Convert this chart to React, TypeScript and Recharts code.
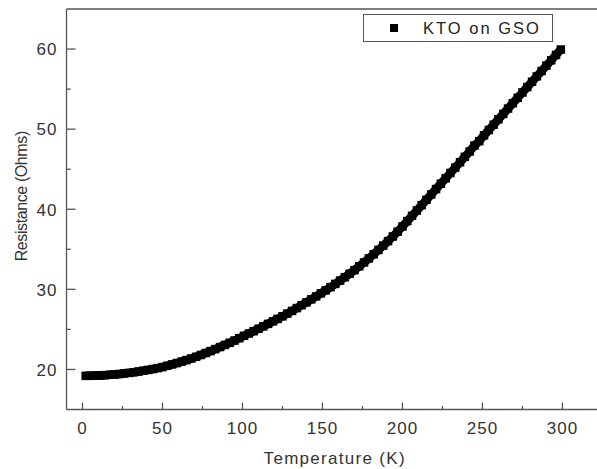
import React from "react";
import { ScatterChart, Scatter, XAxis, YAxis, ReferenceLine, Legend } from "recharts";

const temperatures = [
  2, 5, 8, 11, 14, 17, 20, 23, 26, 29, 32, 35, 38, 41, 44, 47, 50,
  53, 56, 59, 62, 65, 68, 71, 74, 77, 80, 83, 86, 89, 92, 95, 98, 101,
  104, 107, 110, 113, 116, 119, 122, 125, 128, 131, 134, 137, 140, 143, 146, 149,
  152, 155, 158, 161, 164, 167, 170, 173, 176, 179, 182, 185, 188, 191, 194, 197, 200,
  203, 206, 209, 212, 215, 218, 221, 224, 227, 230, 233, 236, 239, 242, 245, 248,
  251, 254, 257, 260, 263, 266, 269, 272, 275, 278, 281, 284, 287, 290, 293, 296, 299,
];

const resistances = [
  19.2, 19.21, 19.23, 19.25, 19.29, 19.33, 19.38, 19.43, 19.5, 19.57, 19.65, 19.74, 19.84, 19.94, 20.05, 20.17, 20.3,
  20.46, 20.63, 20.8, 20.98, 21.17, 21.37, 21.58, 21.81, 22.05, 22.29, 22.54, 22.8, 23.06, 23.33, 23.61, 23.9, 24.2,
  24.49, 24.78, 25.08, 25.38, 25.69, 26.0, 26.31, 26.63, 26.97, 27.31, 27.66, 28.02, 28.38, 28.75, 29.12, 29.5,
  29.87, 30.27, 30.68, 31.1, 31.52, 31.95, 32.4, 32.88, 33.36, 33.86, 34.38, 34.92, 35.46, 36.02, 36.6, 37.2, 37.85,
  38.52, 39.18, 39.84, 40.51, 41.18, 41.85, 42.52, 43.19, 43.86, 44.53, 45.2, 45.87, 46.54, 47.21, 47.95, 48.5,
  49.22, 49.89, 50.56, 51.23, 51.9, 52.57, 53.24, 53.91, 54.58, 55.25, 55.92, 56.59, 57.26, 57.93, 58.6, 59.27, 59.94,
];

const xTicks = [0, 25, 50, 75, 100, 125, 150, 175, 200, 225, 250, 275, 300];
const yTicks = [20, 25, 30, 35, 40, 45, 50, 55, 60];
const seriesName = "KTO on GSO";

const data = temperatures.map((t, i) => ({ t, r: resistances[i] }));

const FONT = "Arial, 'Liberation Sans', sans-serif";
const AXIS = "#555";
const TEXT = "#333";

const XTick = (props: any) => {
  const { x, y, payload } = props;
  const v = payload.value;
  const major = v % 50 === 0;
  return (
    <g>
      <line x1={x} x2={x} y1={y} y2={y - (major ? 7 : 3.5)} stroke={AXIS} strokeWidth={1.3} />
      {major && (
        <text x={x} y={y + 24} textAnchor="middle" fontSize={17} letterSpacing={1} fill={TEXT} fontFamily={FONT}>
          {v}
        </text>
      )}
    </g>
  );
};

const YTick = (props: any) => {
  const { x, y, payload } = props;
  const v = payload.value;
  const major = v % 10 === 0;
  return (
    <g>
      <line x1={x} x2={x + (major ? 9 : 4.3)} y1={y} y2={y} stroke={AXIS} strokeWidth={1.3} />
      {major && (
        <text x={x - 9} y={y + 6.3} textAnchor="end" fontSize={17} letterSpacing={1} fill={TEXT} fontFamily={FONT}>
          {v}
        </text>
      )}
    </g>
  );
};

const XLabel = (props: any) => {
  const vb = props.viewBox;
  return (
    <text x={vb.x + vb.width / 2 + 3} y={vb.y + 54} textAnchor="middle" fontSize={17} letterSpacing={1.3} fill={TEXT} fontFamily={FONT}>
      Temperature (K)
    </text>
  );
};

const YLabel = (props: any) => {
  const vb = props.viewBox;
  const cx = 26.5;
  const cy = vb.y + vb.height / 2 - 13;
  return (
    <text x={cx} y={cy} transform={`rotate(-90, ${cx}, ${cy})`} textAnchor="middle" fontSize={16} letterSpacing={-0.4} fill={TEXT} fontFamily={FONT}>
      Resistance (Ohms)
    </text>
  );
};

const Square = (props: any) => {
  const { cx, cy } = props;
  const s = 8.5;
  return <rect x={cx - s / 2} y={cy - s / 2} width={s} height={s} fill="#000" />;
};

const LegendBox = () => (
  <div
    style={{
      boxSizing: "border-box",
      width: 190,
      height: 28,
      border: "1.3px solid #555",
      background: "#fff",
      position: "relative",
      fontFamily: FONT,
    }}
  >
    <div style={{ position: "absolute", left: 26, top: 9, width: 7.5, height: 8, background: "#000" }} />
    <div
      style={{
        position: "absolute",
        left: 59,
        top: 3,
        fontSize: 16.5,
        letterSpacing: 2,
        color: "#222",
        lineHeight: "20px",
        whiteSpace: "nowrap",
      }}
    >
      {seriesName}
    </div>
  </div>
);

export default function App() {
  return (
    <div style={{ position: "absolute", left: 0, top: 0, width: 597, height: 469, background: "#fff" }}>
      <ScatterChart width={597} height={469} margin={{ top: 9, right: 0, bottom: 0, left: 0 }}>
        <XAxis
          type="number"
          dataKey="t"
          domain={[-10, 321.6]}
          allowDataOverflow
          ticks={xTicks}
          interval={0}
          tick={<XTick />}
          tickLine={false}
          tickSize={0}
          tickMargin={0}
          height={59.5}
          axisLine={{ stroke: AXIS, strokeWidth: 1.3 }}
          label={<XLabel />}
        />
        <YAxis
          type="number"
          dataKey="r"
          domain={[15, 65]}
          allowDataOverflow
          ticks={yTicks}
          interval={0}
          tick={<YTick />}
          tickLine={false}
          tickSize={0}
          tickMargin={0}
          width={66.5}
          axisLine={{ stroke: AXIS, strokeWidth: 1.3 }}
          label={<YLabel />}
        />
        <ReferenceLine y={65} stroke={AXIS} strokeWidth={1.3} />
        <Legend
          layout="horizontal"
          verticalAlign="middle"
          align="center"
          wrapperStyle={{ left: 363, top: 14, width: 190, height: 28 }}
          content={<LegendBox />}
        />
        <Scatter
          name={seriesName}
          data={data}
          fill="#000"
          shape={<Square />}
          line={{ stroke: "#000", strokeWidth: 8.5 }}
          isAnimationActive={false}
        />
      </ScatterChart>
    </div>
  );
}
